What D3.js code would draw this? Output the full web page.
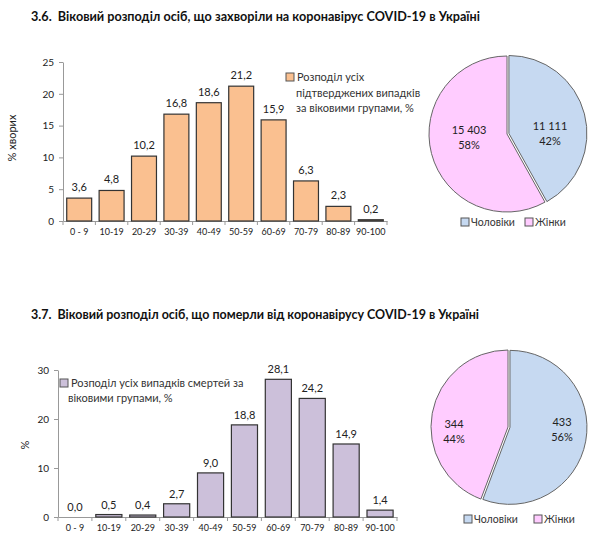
<!DOCTYPE html>
<html><head><meta charset="utf-8">
<script src="https://cdn.jsdelivr.net/npm/d3@7"></script>
<style>
body{margin:0;background:#fff;}
text{font-family:Lato,"Open Sans","Liberation Sans",sans-serif;}
text.title{white-space:pre;}
</style></head>
<body>
<svg id="c" width="600" height="540"></svg>
<script>
const ageGroups = ["0 - 9","10-19","20-29","30-39","40-49","50-59","60-69","70-79","80-89","90-100"];
const casesPct = [3.6,4.8,10.2,16.8,18.6,21.2,15.9,6.3,2.3,0.2];
const deathsPct = [0.0,0.5,0.4,2.7,9.0,18.8,28.1,24.2,14.9,1.4];
const casesTicks = [0,5,10,15,20,25];
const deathsTicks = [0,10,20,30];
const genders = ["Чоловіки","Жінки"];
const casesByGender = [11111,15403];
const deathsByGender = [433,344];
const title1 = "3.6.  Віковий розподіл осіб, що захворіли на коронавірус COVID-19 в Україні";
const title2 = "3.7.  Віковий розподіл осіб, що померли від коронавірусу COVID-19 в Україні";
const legend1 = ["Розподіл усіх","підтверджених випадків","за віковими групами, %"];
const legend2 = ["Розподіл усіх випадків смертей за","віковими групами, %"];

const svg = d3.select("#c");
const fmt1 = v => d3.format(".1f")(v).replace(".", ",");
const fmtInt = v => d3.format(",")(v).replace(/,/g, " ");
const genderColors = ["#c6d9f1","#ffccff"];

function title(txt, y, len){
  svg.append("text").attr("class","title").attr("x",31).attr("y",y).attr("font-size",14).attr("font-weight","bold")
    .attr("fill","#111").attr("textLength",len).attr("lengthAdjust","spacingAndGlyphs").text(txt);
}
title(title1, 21, 449);
title(title2, 319, 448);

function barChart(o){
  const x = d3.scaleBand().domain(ageGroups).range([o.x0,o.x1]).paddingInner(0.23).paddingOuter(0.115);
  const y = d3.scaleLinear().domain([0,o.max]).range([o.y0,o.y1]);
  const g = svg.append("g");
  const ya = g.append("g").attr("transform",`translate(${o.x0},0)`)
    .call(d3.axisLeft(y).tickValues(o.ticks).tickSize(4).tickSizeOuter(0));
  ya.select(".domain").attr("stroke","#999");
  ya.selectAll(".tick line").attr("stroke","#999");
  ya.selectAll(".tick text").attr("font-size",10).attr("fill","#222").attr("x",-9);
  const xa = g.append("g").attr("transform",`translate(0,${o.y0})`)
    .call(d3.axisBottom(x).tickSize(0).tickSizeOuter(0));
  xa.select(".domain").attr("stroke","#999");
  xa.selectAll(".tick text").attr("font-size",9).attr("fill","#222").attr("dy","0.71em").attr("y",8);
  const seps = ageGroups.map((d,i)=> o.x0 + (o.x1-o.x0)*i/ageGroups.length).concat([o.x1]);
  g.selectAll("line.sep").data(seps).enter().append("line")
    .attr("x1",d=>d).attr("x2",d=>d).attr("y1",o.y0).attr("y2",o.y0+4).attr("stroke","#999");
  g.selectAll("rect.bar").data(o.values).enter().append("rect")
    .attr("x",(d,i)=>x(ageGroups[i])).attr("width",x.bandwidth())
    .attr("y",d=>y(d)).attr("height",d=>o.y0-y(d))
    .attr("fill",o.color).attr("stroke","#333").attr("stroke-width",1.2);
  g.selectAll("text.val").data(o.values).enter().append("text")
    .attr("x",(d,i)=>x(ageGroups[i])+x.bandwidth()/2).attr("y",d=>y(d)-o.labOff)
    .attr("text-anchor","middle").attr("font-size",11).attr("fill","#222").text(fmt1);
  svg.append("text").attr("transform",`translate(${o.ylx},${o.yly}) rotate(-90)`)
    .attr("text-anchor","middle").attr("font-size",11).attr("fill","#222").text(o.ylabel);
  svg.append("rect").attr("x",o.lx).attr("y",o.ly-4).attr("width",8).attr("height",8)
    .attr("fill",o.color).attr("stroke","#555");
  o.legend.forEach((t,i)=>{
    svg.append("text").attr("x", i===0 ? o.lx+11 : o.lx+ (o.indent||0)).attr("y",o.ly+4+i*o.lh)
      .attr("font-size",11).attr("fill","#333").text(t);
  });
}

barChart({x0:63,x1:387,y0:221,y1:62,max:25,ticks:casesTicks,values:casesPct,color:"#fac090",
  labOff:7,ylabel:"% хворих",ylx:16,yly:138,legend:legend1,lx:286,ly:77,lh:15.5,indent:10});
barChart({x0:58,x1:397,y0:517,y1:370,max:30,ticks:deathsTicks,values:deathsPct,color:"#ccc0da",
  labOff:6,ylabel:"%",ylx:29,yly:445,legend:legend2,lx:60,ly:383,lh:14.5,indent:8});

function pie(o){
  const total = d3.sum(o.values);
  const arcs = d3.pie().sort(null)(o.values);
  const arc = d3.arc().innerRadius(0).outerRadius(o.r);
  const g = svg.append("g").attr("transform",`translate(${o.cx},${o.cy})`);
  g.selectAll("path").data(arcs).enter().append("path")
    .attr("d",arc).attr("fill",(d,i)=>genderColors[i]).attr("stroke","#666").attr("stroke-width",1)
    .attr("transform",(d,i)=>{
      if(i!==0) return null;
      const a=(d.startAngle+d.endAngle)/2;
      return `translate(${2*Math.sin(a)},${-2*Math.cos(a)})`;
    });
  arcs.forEach((d,i)=>{
    const [lx,ly] = o.labels[i];
    const t = svg.append("text").attr("text-anchor","middle").attr("font-size",11).attr("fill","#222");
    t.append("tspan").attr("x",o.cx+lx).attr("y",o.cy+ly).text(fmtInt(d.data));
    t.append("tspan").attr("x",o.cx+lx).attr("y",o.cy+ly+15).text(Math.round(d.data/total*100)+"%");
  });
  genders.forEach((gname,i)=>{
    const lx = o.legX[i];
    svg.append("rect").attr("x",lx).attr("y",o.legY-4).attr("width",8).attr("height",8)
      .attr("fill",genderColors[i]).attr("stroke","#555");
    svg.append("text").attr("x",lx+10).attr("y",o.legY+4).attr("font-size",10.5).attr("fill","#333").text(gname);
  });
}
pie({cx:507,cy:134,r:78,values:casesByGender,labels:[[43,-4],[-38,0]],legX:[461,525],legY:222});
pie({cx:508,cy:427,r:77,values:deathsByGender,labels:[[54,-1],[-54,1]],legX:[464,534],legY:519});
</script>
</body></html>
